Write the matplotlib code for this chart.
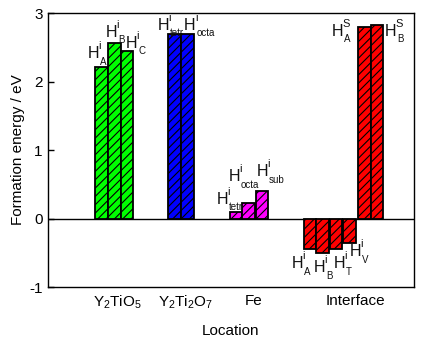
import matplotlib
matplotlib.use("Agg")
import matplotlib.pyplot as plt
from matplotlib.transforms import offset_copy

plt.rcParams['font.family'] = ['Liberation Sans', 'DejaVu Sans']
plt.rcParams['mathtext.fontset'] = 'custom'
plt.rcParams['mathtext.rm'] = 'Liberation Sans'
plt.rcParams['mathtext.it'] = 'Liberation Sans:italic'
plt.rcParams['mathtext.default'] = 'regular'
plt.rcParams['hatch.linewidth'] = 0.8
plt.rcParams['axes.unicode_minus'] = False

# Data
categories = [r'Y$_2$TiO$_5$', r'Y$_2$Ti$_2$O$_7$', 'Fe', 'Interface']
cat_pos = [5.52, 10.85, 16.23, 24.29]

green_pos = [4.25, 5.27, 6.27]
green_vals = [2.21, 2.56, 2.44]
green_sup = ['i', 'i', 'i']
green_sub = ['A', 'B', 'C']

blue_pos = [10.03, 11.04]
blue_vals = [2.69, 2.69]
blue_sup = ['i', 'i']
blue_sub = ['tetr', 'octa']

mag_pos = [14.86, 15.86, 16.9]
mag_vals = [0.10, 0.23, 0.40]
mag_sup = ['i', 'i', 'i']
mag_sub = ['tetr', 'octa', 'sub']

red_pos = [20.7, 21.7, 22.76, 23.82, 24.97, 25.98]
red_vals = [-0.45, -0.51, -0.44, -0.36, 2.80, 2.82]
red_sup = ['i', 'i', 'i', 'i', 'S', 'S']
red_sub = ['A', 'B', 'T', 'V', 'A', 'B']

# label anchors: left edge / baseline of the "H"
green_lxy = [(3.26, 2.34), (4.66, 2.65), (6.25, 2.49)]
blue_lxy = [(8.74, 2.755), (10.85, 2.755)]
mag_lxy = [(13.41, 0.219), (14.35, 0.544), (16.57, 0.617)]
red_lxy = [(19.34, -0.729), (21.08, -0.787), (22.66, -0.729), (23.9, -0.55),
           (22.53, 2.67), (26.66, 2.67)]

groups = [
    (green_pos, green_vals, '#00ff00', green_sup, green_sub, green_lxy),
    (blue_pos, blue_vals, '#0000ff', blue_sup, blue_sub, blue_lxy),
    (mag_pos, mag_vals, '#ff00ff', mag_sup, mag_sub, mag_lxy),
    (red_pos, red_vals, '#ff0000', red_sup, red_sub, red_lxy),
]

fig = plt.figure(figsize=(4.22, 3.45), dpi=100)
ax = fig.add_axes([0.113, 0.168, 0.868, 0.794])


def hlabel(x, y, sup, sub):
    tc = '#111111'
    t0 = offset_copy(ax.transData, fig=fig, x=-1.2, y=0, units='dots')
    ax.text(x, y, 'H', transform=t0, fontsize=11.5, ha='left', va='baseline',
            color=tc, zorder=4)
    t1 = offset_copy(ax.transData, fig=fig, x=9.6, y=9.0, units='dots')
    ax.text(x, y, sup, transform=t1, fontsize=8.0, ha='left',
            va='baseline', color=tc, zorder=4)
    t2 = offset_copy(ax.transData, fig=fig, x=11.2, y=-6.4, units='dots')
    ax.text(x, y, sub, transform=t2, fontsize=7.0, ha='left',
            va='baseline', color=tc, zorder=4)


for pos, vals, col, sups, subs, lxy in groups:
    ax.bar(pos, vals, width=1.0, color=col, edgecolor='black',
           linewidth=1.3, hatch='////', zorder=3)
    for sp, sb, (lx, ly) in zip(sups, subs, lxy):
        hlabel(lx, ly, sp, sb)

ax.axhline(0, color='black', linewidth=1.0, zorder=2)
ax.set_xlim(0, 28.9)
ax.set_ylim(-1, 3)
ax.set_yticks([-1, 0, 1, 2, 3])
ax.set_xticks(cat_pos)
ax.set_xticklabels(categories, fontsize=11)
ax.tick_params(axis='x', length=0, pad=5)
ax.tick_params(axis='y', direction='in', length=4, labelsize=11, width=1)
for s in ax.spines.values():
    s.set_linewidth(1.0)
ax.set_xlabel('Location', fontsize=11, labelpad=9)
ax.set_ylabel('Formation energy / eV', fontsize=11, labelpad=3)

fig.savefig('out.png', dpi=100)
